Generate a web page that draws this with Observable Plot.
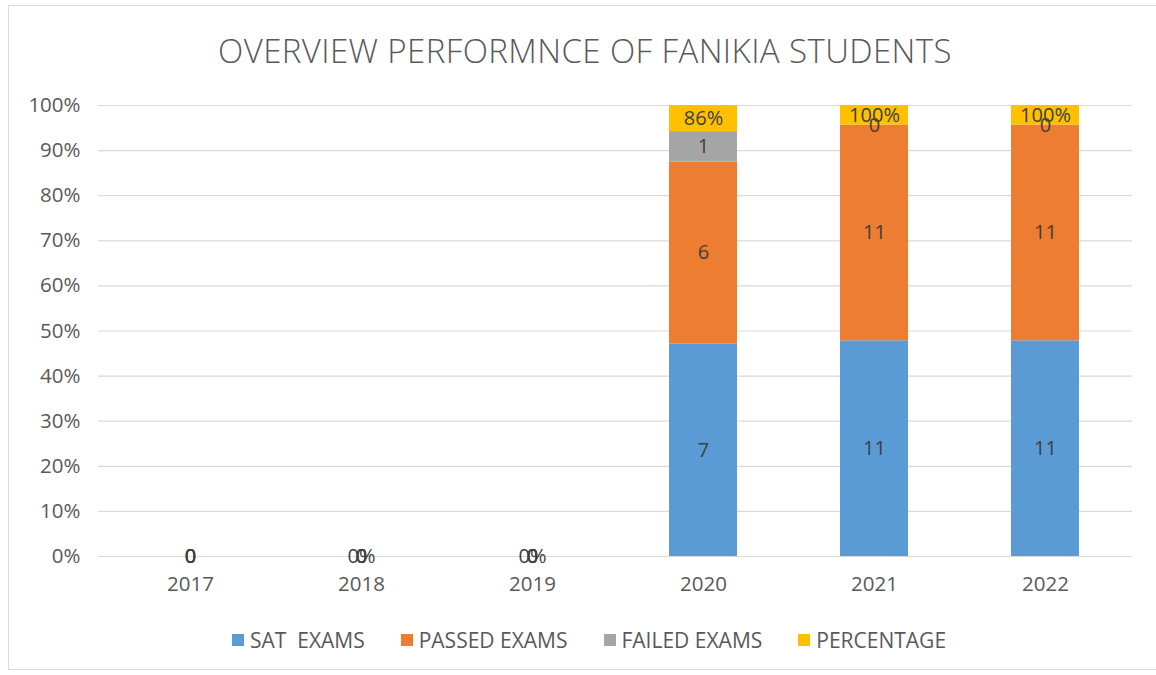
<!DOCTYPE html>
<html>
<head>
<meta charset="utf-8">
<script src="https://cdn.jsdelivr.net/npm/d3@7"></script>
<script src="https://cdn.jsdelivr.net/npm/@observablehq/plot@0.6"></script>
<style>
  body { margin: 0; background: #fff; font-family: "Open Sans", sans-serif; }
  #frame { position: absolute; left: 8px; top: 5px; width: 1160px; height: 665px; border: 1px solid #d9d9d9; box-sizing: border-box; }
  #title { position: absolute; left: 0; width: 1170px; top: 28px; text-align: center; font-size: 33px; color: #595959; letter-spacing: 0.4px; font-weight: 300; }
  #chart { position: absolute; left: 0; top: 90px; }
  #legend { position: absolute; left: 0; width: 1178px; top: 626px; display: flex; justify-content: center; gap: 36px; font-size: 21px; color: #595959; }
  .item { display: flex; align-items: center; white-space: pre; }
  .sw { width: 12px; height: 12px; margin-right: 6px; display: inline-block; }
</style>
</head>
<body>
<div id="frame"></div>
<div id="title">OVERVIEW PERFORMNCE OF FANIKIA STUDENTS</div>
<div id="chart"></div>
<div id="legend"></div>
<script>
const years = ["2017", "2018", "2019", "2020", "2021", "2022"];
const series = ["SAT  EXAMS", "PASSED EXAMS", "FAILED EXAMS", "PERCENTAGE"];
const colors = ["#5B9BD5", "#ED7D31", "#A5A5A5", "#FFC000"];
const satExams = [0, 0, 0, 7, 11, 11];
const passedExams = [0, 0, 0, 6, 11, 11];
const failedExams = [0, 0, 0, 1, 0, 0];
const percentage = [0, 0, 0, 0.86, 1.00, 1.00];
const percentLabels = ["0", "0%", "0%", "86%", "100%", "100%"];
const yTicks = [0, 0.1, 0.2, 0.3, 0.4, 0.5, 0.6, 0.7, 0.8, 0.9, 1.0];

// Build 100%-stacked rows
const rows = [];
years.forEach((yr, i) => {
  const vals = [satExams[i], passedExams[i], failedExams[i], percentage[i]];
  const labels = [String(satExams[i]), String(passedExams[i]), String(failedExams[i]), percentLabels[i]];
  const total = d3.sum(vals);
  let cum = 0;
  vals.forEach((v, k) => {
    const y1 = total ? cum / total : 0;
    cum += v;
    const y2 = total ? cum / total : 0;
    rows.push({year: yr, series: series[k], y1, y2, mid: (y1 + y2) / 2, label: labels[k]});
  });
});

const chart = Plot.plot({
  width: 1156,
  height: 510,
  marginTop: 15,
  marginBottom: 44,
  marginLeft: 98,
  marginRight: 24,
  style: {fontFamily: "'Open Sans', sans-serif", fontSize: "20px", color: "#595959", background: "transparent"},
  x: {domain: years, paddingInner: 0.6, paddingOuter: 0.3, insetLeft: 5, label: null},
  y: {domain: [0, 1], label: null},
  color: {domain: series, range: colors},
  marks: [
    Plot.ruleY(yTicks, {stroke: "#d9d9d9", strokeWidth: 1.2}),
    Plot.barY(rows, {x: "year", y1: "y1", y2: "y2", fill: "series"}),
    Plot.text(rows, {x: "year", y: "mid", text: "label", fill: "#404040", fontSize: 20}),
    Plot.axisY(yTicks, {tickSize: 0, tickPadding: 18, tickFormat: d => Math.round(d * 100) + "%", fontSize: 20.5, fill: "#595959"}),
    Plot.axisX({tickSize: 0, tickPadding: 20, fontSize: 20.5, fill: "#595959"})
  ]
});
document.getElementById("chart").appendChild(chart);

const legend = document.getElementById("legend");
series.forEach((s, k) => {
  const item = document.createElement("div");
  item.className = "item";
  const sw = document.createElement("span");
  sw.className = "sw";
  sw.style.background = colors[k];
  item.appendChild(sw);
  item.appendChild(document.createTextNode(s));
  legend.appendChild(item);
});
</script>
</body>
</html>
